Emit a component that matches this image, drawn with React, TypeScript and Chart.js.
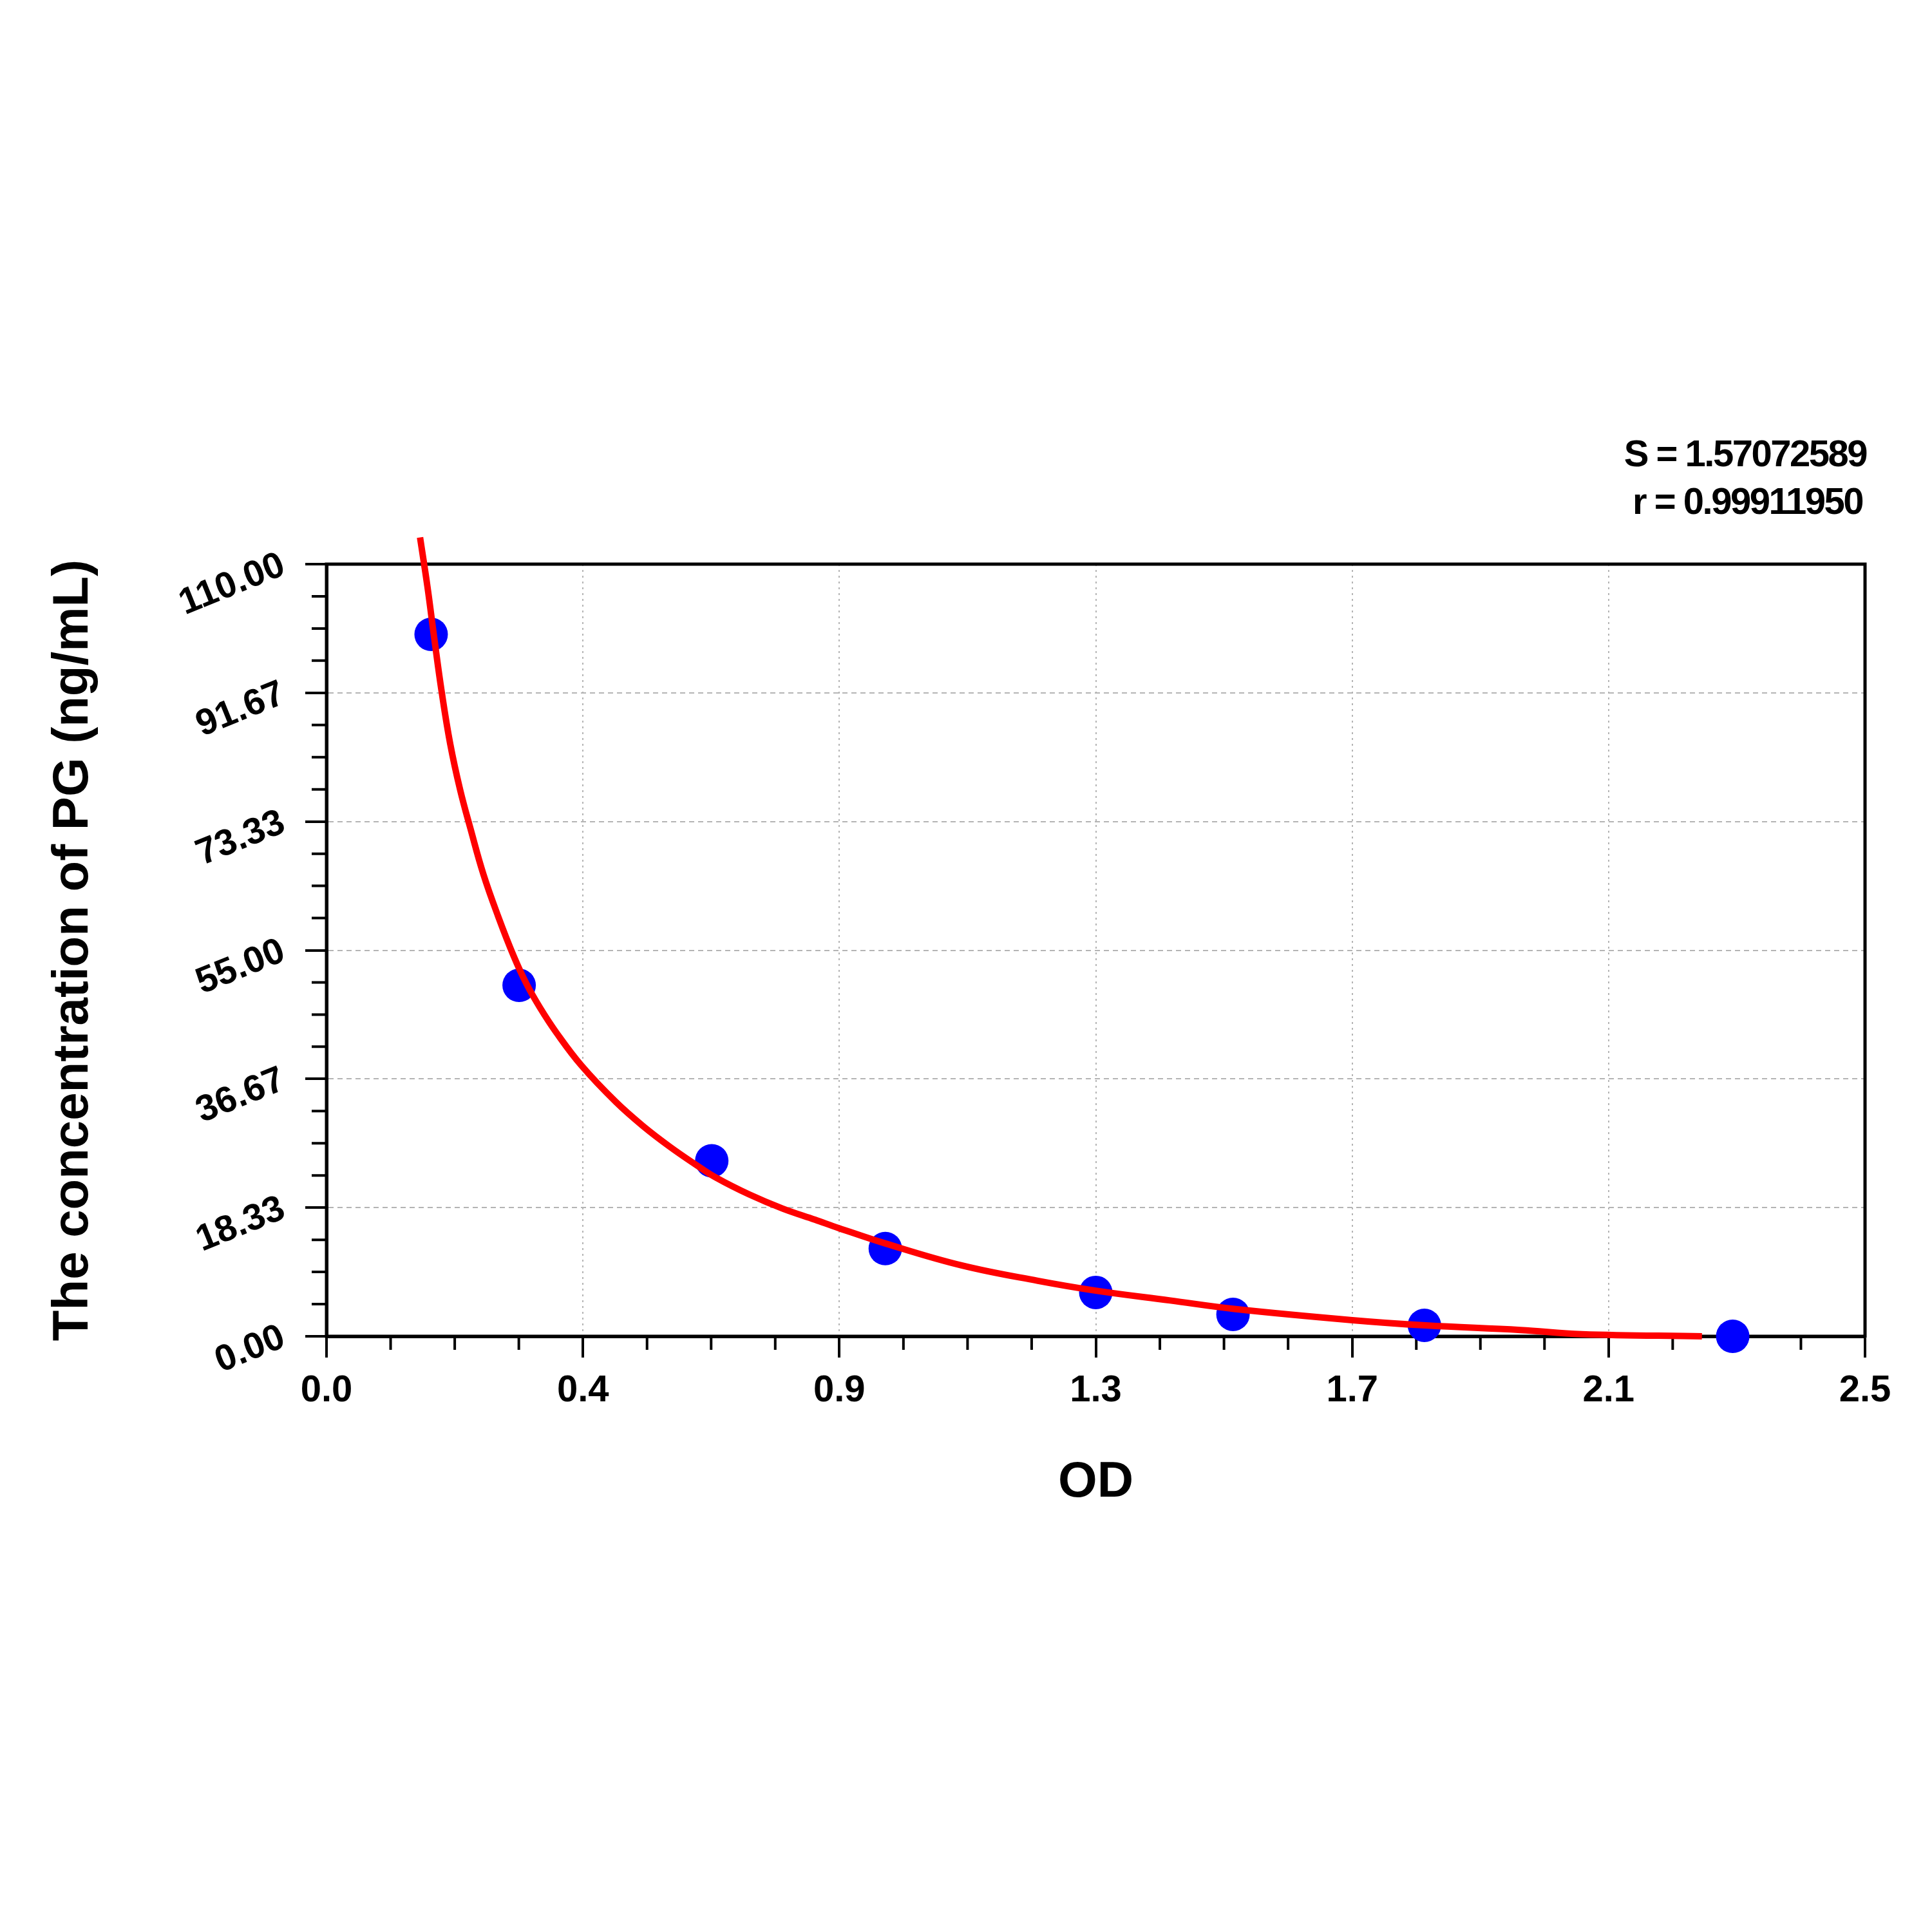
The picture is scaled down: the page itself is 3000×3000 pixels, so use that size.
import React, { useEffect, useRef } from 'react';
import { Chart, registerables } from 'chart.js';

Chart.register(...registerables);

// standards (OD vs concentration)
const odValues = [0.17, 0.313, 0.626, 0.908, 1.25, 1.473, 1.784, 2.285];
const concValues = [100, 50, 25, 12.5, 6.25, 3.125, 1.5625, 0];

// fitted curve
const curveOd = [0.152, 0.164, 0.175, 0.187, 0.201, 0.217, 0.234, 0.255, 0.279, 0.304, 0.325, 0.347, 0.374, 0.414, 0.47, 0.515, 0.558, 0.601, 0.633, 0.687, 0.741, 0.794, 0.833, 0.909, 1.032, 1.156, 1.25, 1.371, 1.475, 1.667, 1.786, 1.94, 2.04, 2.235];
const curveConc = [113.8, 106.8, 99.5, 91.9, 84.4, 77.9, 72.3, 65.8, 59.8, 54.2, 50.2, 46.8, 43.2, 38.6, 33.4, 29.9, 27.0, 24.4, 22.6, 20.2, 18.2, 16.6, 15.4, 13.2, 10.1, 7.9, 6.5, 5.1, 3.9, 2.3, 1.55, 0.9, 0.3, 0.0];

const xTickValues = [0, 0.4167, 0.8333, 1.25, 1.6667, 2.0833, 2.5];
const xTickLabels = ['0.0', '0.4', '0.9', '1.3', '1.7', '2.1', '2.5'];
const yTickValues = [0, 18.33, 36.67, 55, 73.33, 91.67, 110];
const yTickLabels = ['0.00', '18.33', '36.67', '55.00', '73.33', '91.67', '110.00'];

const fitStats = ['S = 1.57072589', 'r = 0.99911950'];

const MINOR = 4;
const FONT = '"Liberation Sans", Arial, sans-serif';

const framePlugin = {
  id: 'frame',
  beforeDatasetsDraw(chart: any) {
    const { ctx, chartArea: a, scales } = chart;
    ctx.save();
    ctx.strokeStyle = '#000';
    ctx.lineWidth = 5;
    ctx.strokeRect(a.left, a.top, a.right - a.left, a.bottom - a.top);
    // minor ticks
    ctx.lineWidth = 4;
    ctx.beginPath();
    for (let i = 0; i < xTickValues.length - 1; i++) {
      for (let j = 1; j < MINOR; j++) {
        const v = xTickValues[i] + ((xTickValues[i + 1] - xTickValues[i]) * j) / MINOR;
        const px = scales.x.getPixelForValue(v);
        ctx.moveTo(px, a.bottom);
        ctx.lineTo(px, a.bottom + 21);
      }
    }
    for (let i = 0; i < yTickValues.length - 1; i++) {
      for (let j = 1; j < MINOR; j++) {
        const v = yTickValues[i] + ((yTickValues[i + 1] - yTickValues[i]) * j) / MINOR;
        const py = scales.y.getPixelForValue(v);
        ctx.moveTo(a.left, py);
        ctx.lineTo(a.left - 23, py);
      }
    }
    ctx.stroke();
    ctx.restore();
  },
  afterDraw(chart: any) {
    const { ctx, chartArea: a } = chart;
    ctx.save();
    ctx.fillStyle = '#000';
    ctx.font = `bold 58px ${FONT}`;
    (ctx as any).letterSpacing = '-2.5px';
    ctx.textAlign = 'right';
    ctx.textBaseline = 'alphabetic';
    ctx.fillText(fitStats[0], a.right + 2, 724);
    ctx.fillText(fitStats[1], a.right - 4, 798);
    ctx.restore();
  },
};

const App: React.FC = () => {
  const canvasRef = useRef<HTMLCanvasElement>(null);

  useEffect(() => {
    const ctx = canvasRef.current?.getContext('2d');
    if (!ctx) return;
    const chart = new Chart(ctx, {
      type: 'scatter',
      data: {
        datasets: [
          {
            label: 'fit',
            data: curveOd.map((x, i) => ({ x, y: curveConc[i] })),
            showLine: true,
            borderColor: '#ff0000',
            borderWidth: 10,
            pointRadius: 0,
            tension: 0.4,
            clip: false,
          } as any,
          {
            label: 'standards',
            data: odValues.map((x, i) => ({ x, y: concValues[i] })),
            backgroundColor: '#0000ff',
            borderWidth: 0,
            pointRadius: 26,
            clip: false,
          } as any,
        ],
      },
      options: {
        responsive: false,
        animation: false,
        devicePixelRatio: 1,
        events: [],
        layout: { padding: { left: 0, top: 876, right: 104, bottom: 625 } },
        plugins: { legend: { display: false }, tooltip: { enabled: false } },
        scales: {
          x: {
            type: 'linear',
            min: 0,
            max: 2.5,
            afterBuildTicks: (s: any) => {
              s.ticks = xTickValues.map((v) => ({ value: v }));
            },
            afterFit: (s: any) => {
              s.height = 300;
            },
            ticks: {
              callback: (_v: any, i: number) => xTickLabels[i],
              autoSkip: false,
              maxRotation: 0,
              minRotation: 0,
              padding: 17,
              color: '#000',
              font: { family: FONT, size: 58, weight: 'bold' },
            },
            grid: { color: '#b4b4b4', lineWidth: 2, tickLength: 33, tickColor: '#000', tickWidth: 4 },
            border: { color: '#000', width: 5, dash: [3, 6] },
            title: {
              display: true,
              text: 'OD',
              color: '#000',
              font: { family: FONT, size: 78, weight: 'bold' },
              padding: { top: 0, bottom: 26 },
            },
          },
          y: {
            type: 'linear',
            min: 0,
            max: 110,
            afterBuildTicks: (s: any) => {
              s.ticks = yTickValues.map((v) => ({ value: v }));
            },
            afterFit: (s: any) => {
              s.width = 507;
            },
            ticks: {
              callback: (_v: any, i: number) => yTickLabels[i],
              autoSkip: false,
              minRotation: 22,
              maxRotation: 22,
              padding: 34,
              color: '#000',
              font: { family: FONT, size: 57, weight: 'bold' },
            },
            grid: { color: '#b4b4b4', lineWidth: 2, tickLength: 33, tickColor: '#000', tickWidth: 4 },
            border: { color: '#000', width: 5, dash: [8, 6] },
            title: {
              display: true,
              text: 'The concentration of PG (ng/mL)',
              color: '#000',
              font: { family: FONT, size: 78, weight: 'bold' },
              padding: { top: 68, bottom: 0 },
            },
          },
        },
      } as any,
      plugins: [framePlugin],
    });
    return () => chart.destroy();
  }, []);

  return (
    <div style={{ position: 'absolute', left: 0, top: 0, width: 3000, height: 3000, background: '#fff' }}>
      <canvas ref={canvasRef} width={3000} height={3000} style={{ width: 3000, height: 3000 }} />
    </div>
  );
};

export default App;
